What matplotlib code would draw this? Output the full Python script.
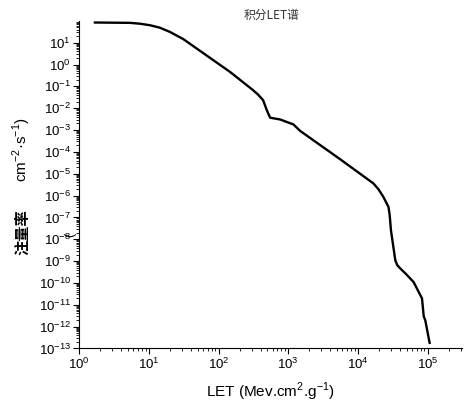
import matplotlib.pyplot as plt
import numpy as np
from matplotlib.ticker import LogLocator, NullFormatter

# integral LET spectrum
LET = [1.68, 5.35, 7.45, 10.4, 14.4, 20.1, 31.3, 48.6, 146, 313, 370, 436,
       493, 550, 766, 1190, 1480, 5570, 16700, 19700, 23300, 27500, 28600,
       29800, 34400, 36700, 40600, 49400, 63000, 83200, 88100, 92700, 107000]
FLUX = [84, 81, 74, 63, 48.6, 31, 14.5, 5.4, 0.46, 0.067, 0.0416, 0.0233,
        0.0081, 0.00368, 0.00305, 0.0018, 0.00092, 4.6e-5, 3.6e-6, 1.96e-6,
        8.5e-7, 3.0e-7, 1.26e-7, 2.6e-8, 1.1e-9, 6.5e-10, 4.6e-10, 2.5e-10,
        1.1e-10, 1.95e-11, 2.95e-12, 1.95e-12, 1.8e-13]
TITLE = "积分LET谱"
XLABEL = "LET (Mev.cm$^2$.g$^{-1}$)"
YLABEL_CN = "注量率"
YLABEL_UNIT = "cm$^{-2}$·s$^{-1}$)"

plt.rcParams['font.family'] = ['Liberation Sans', 'Noto Sans CJK SC', 'DejaVu Sans']
plt.rcParams['mathtext.fontset'] = 'custom'
plt.rcParams['mathtext.rm'] = 'Liberation Sans'
plt.rcParams['axes.unicode_minus'] = False

fig = plt.figure(figsize=(4.66, 4.09), dpi=100)
ax = fig.add_axes([0.170, 0.148, 0.821, 0.801])
ax.plot(LET, FLUX, color='black', lw=1.7, solid_joinstyle='round')
ax.set_xscale('log')
ax.set_yscale('log')
ax.set_xlim(1, 3.1e5)
ax.set_ylim(1e-13, 1e2)
ax.set_yticks([10.0 ** k for k in range(-13, 2)])
ax.yaxis.set_minor_locator(LogLocator(base=10, subs=np.arange(2, 10), numticks=50))
ax.yaxis.set_minor_formatter(NullFormatter())
ax.xaxis.set_minor_locator(LogLocator(base=10, subs=np.arange(2, 10), numticks=50))
ax.xaxis.set_minor_formatter(NullFormatter())
ax.tick_params(which='major', direction='out', length=4, width=0.8, labelsize=9.5, pad=2)
ax.tick_params(which='minor', direction='out', length=2.5, width=0.6)
ax.spines['top'].set_visible(False)
ax.spines['right'].set_visible(False)

ax.set_xlabel(XLABEL, fontsize=11, labelpad=6)
# y label drawn in two pieces so the CJK part gets a CJK font
fig.text(0.047, 0.432, YLABEL_CN, fontsize=11, rotation=90, fontweight='bold',
         family=['Noto Sans CJK SC', 'DejaVu Sans'], ha='center', va='center')
fig.text(0.047, 0.633, YLABEL_UNIT, fontsize=11, rotation=90,
         ha='center', va='center')
fig.text(0.583, 0.962, TITLE, fontsize=8.5, color='#333333',
         family=['Noto Sans CJK SC', 'DejaVu Sans'], ha='center', va='center')
fig.text(0.150, 0.425, "(", fontsize=9, rotation=90, ha='center', va='center')

fig.savefig('out.png', dpi=100)
